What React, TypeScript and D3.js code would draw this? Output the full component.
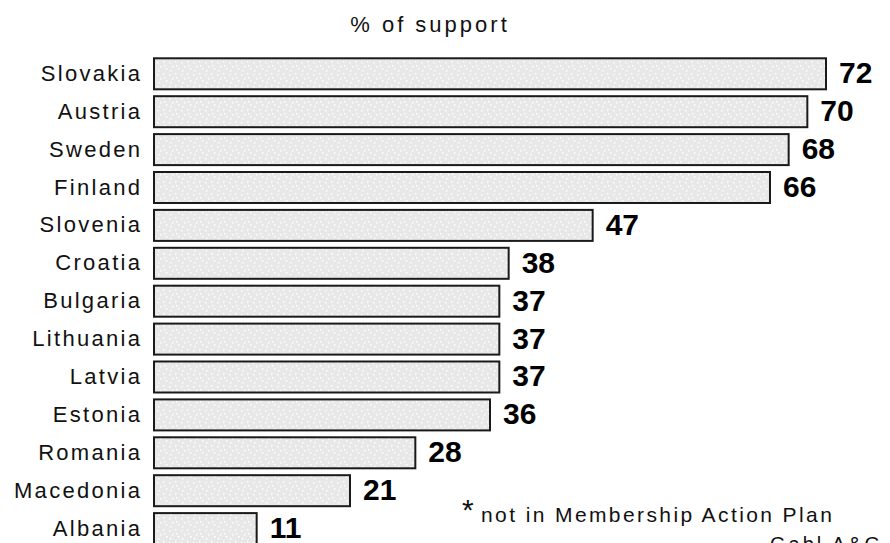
import React from "react";
import * as d3 from "d3";

const categories = ["Slovakia", "Austria", "Sweden", "Finland", "Slovenia", "Croatia", "Bulgaria", "Lithuania", "Latvia", "Estonia", "Romania", "Macedonia", "Albania"];
const values = [72, 70, 68, 66, 47, 38, 37, 37, 37, 36, 28, 21, 11];
const title = "% of support";
const footnote = " not in Membership Action Plan";
const source = "Gabl A&G";

export default function App() {
  const W = 890, H = 543;
  const x = d3.scaleLinear().domain([0, 72]).range([154, 826]);
  const y = d3.scaleBand<string>().domain(categories).range([58.3, 544.1]).paddingInner(0.182).paddingOuter(0);
  const bw = y.bandwidth();
  return (
    <svg width={W} height={H} style={{ position: "absolute", left: 0, top: 0, background: "#fff" }}>
      <defs>
        <pattern id="dots" width="12" height="12" patternUnits="userSpaceOnUse">
          <rect width="12" height="12" fill="#e8e8e8" />
          <rect x="1" y="2" width="1.5" height="1.5" fill="#fff" />
          <rect x="7" y="1" width="1.5" height="1.5" fill="#fff" />
          <rect x="4" y="6" width="1.5" height="1.5" fill="#fff" />
          <rect x="10" y="8" width="1.5" height="1.5" fill="#fff" />
          <rect x="2" y="10" width="1.5" height="1.5" fill="#fff" />
          <rect x="8" y="5" width="1.5" height="1.5" fill="#fff" />
        </pattern>
      </defs>
      <text x={430} y={31.7} textAnchor="middle" fontFamily="Liberation Sans" fontSize={22} letterSpacing={3} fill="#111">{title}</text>
      {categories.map((c, i) => {
        const yy = y(c)!;
        const cy = yy + bw / 2;
        return (
          <g key={c}>
            <rect x={x(0)} y={yy} width={x(values[i]) - x(0)} height={bw} fill="url(#dots)" stroke="#1a1a1a" strokeWidth={2} />
            <text x={142.3} y={cy + 7} textAnchor="end" fontFamily="Liberation Sans" fontSize={22} letterSpacing={2.3} fill="#111">{c}</text>
            <text x={x(values[i]) + 13} y={cy + 9.5} fontFamily="Liberation Sans" fontWeight="bold" fontSize={30} fill="#000">{values[i]}</text>
          </g>
        );
      })}
      <text x={462} y={520} fontFamily="Liberation Sans" fontSize={30} fill="#111">*</text>
      <text x={481} y={521.7} fontFamily="Liberation Sans" fontSize={21} letterSpacing={2.4} fill="#111">{footnote}</text>
      <text x={770} y={551} fontFamily="Liberation Sans" fontSize={20} letterSpacing={3} fill="#111">{source}</text>
    </svg>
  );
}
